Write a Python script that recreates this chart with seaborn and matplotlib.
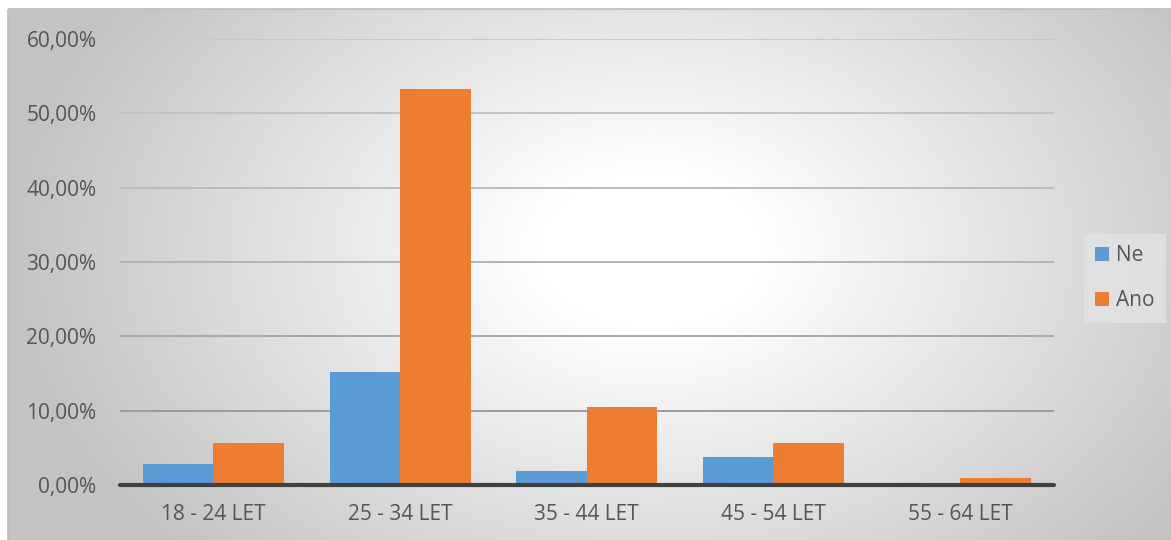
import numpy as np
import pandas as pd
import matplotlib
matplotlib.use("Agg")
import matplotlib.pyplot as plt
from matplotlib.patches import Patch, Rectangle
from matplotlib.ticker import FuncFormatter, MultipleLocator
import seaborn as sns

# Age groups and share of answers per group
categories = ["18 - 24 LET", "25 - 34 LET", "35 - 44 LET", "45 - 54 LET", "55 - 64 LET"]
series_names = ["Ne", "Ano"]
ne_values = [2.86, 15.24, 1.90, 3.81, 0.00]
ano_values = [5.71, 53.33, 10.48, 5.71, 0.95]
colors = ["#5B9BD5", "#ED7D31"]

df = pd.DataFrame({
    "Věk": categories * 2,
    "Podíl": ne_values + ano_values,
    "Odpověď": [series_names[0]] * len(categories) + [series_names[1]] * len(categories),
})

sns.set_theme(style="white")
plt.rcParams["font.family"] = ["Open Sans", "DejaVu Sans"]
TEXT = "#555555"
FS = 15

W, H = 1171, 540
fig = plt.figure(figsize=(W / 100, H / 100), dpi=100)
fig.patch.set_facecolor("white")

# Chart-area background: soft radial gradient, white centre fading to grey
bg = fig.add_axes([0, 0, 1, 1], zorder=-10)
yy, xx = np.mgrid[0:H, 0:W]
cx, cy, rx, ry = 650.0, 250.0, 620.0, 430.0
t = np.sqrt(((xx - cx) / rx) ** 2 + ((yy - cy) / ry) ** 2)
t = np.clip((t - 0.18) / 0.85, 0, 1)
g = 1.0 - t * (1.0 - 0.765)
img = np.dstack([g, g, g])
img[:9, :, :] = 1.0
img[:, :8, :] = 1.0
bg.imshow(img, extent=[0, W, H, 0], aspect="auto", interpolation="bilinear")
bg.set_xlim(0, W)
bg.set_ylim(H, 0)
bg.axis("off")
bg.add_patch(Rectangle((8, 9), W, H, fill=False, edgecolor="#BDBDBD", lw=1.2))

# Plot area
ax = fig.add_axes([120 / W, 55 / H, 933.5 / W, 446 / H])
ax.set_facecolor("none")
sns.barplot(data=df, x="Věk", y="Podíl", hue="Odpověď", palette=colors,
            width=0.755, saturation=1, gap=0, linewidth=0, ax=ax, legend=False)

ax.set_ylim(0, 60)
ax.set_xlim(-0.5, len(categories) - 0.5)
ax.yaxis.set_major_locator(MultipleLocator(10))
ax.yaxis.set_major_formatter(FuncFormatter(lambda v, p: f"{v:.2f}".replace(".", ",") + "%"))

# Horizontal gridlines, darkening toward the baseline
grid_cols = {10: "#9C9C9C", 20: "#A8A8A8", 30: "#B4B4B4", 40: "#BCBCBC", 50: "#C2C2C2", 60: "#C8C8C8"}
for v, c in grid_cols.items():
    ax.axhline(v, color=c, lw=1.4, zorder=0)
ax.axhline(0, color="#404040", lw=3.0, zorder=3, clip_on=False)

for s in ax.spines.values():
    s.set_visible(False)
ax.tick_params(axis="both", length=0, labelsize=FS, colors=TEXT)
ax.tick_params(axis="y", pad=17)
ax.tick_params(axis="x", pad=14)
ax.set_xlabel("")
ax.set_ylabel("")

handles = [Patch(facecolor=c, edgecolor="none") for c in colors]
leg = fig.legend(handles, series_names, loc="upper left",
                 bbox_to_anchor=(1084 / W, 1 - 234 / H), frameon=True,
                 fontsize=FS, handlelength=0.67, handleheight=0.67,
                 handletextpad=0.3, labelspacing=1.15, borderpad=0.55,
                 borderaxespad=0, fancybox=False)
leg.get_frame().set_facecolor("#E4E4E4")
leg.get_frame().set_edgecolor("none")
leg.get_frame().set_alpha(0.75)
for txt in leg.get_texts():
    txt.set_color(TEXT)

fig.savefig("out.png", dpi=100)
